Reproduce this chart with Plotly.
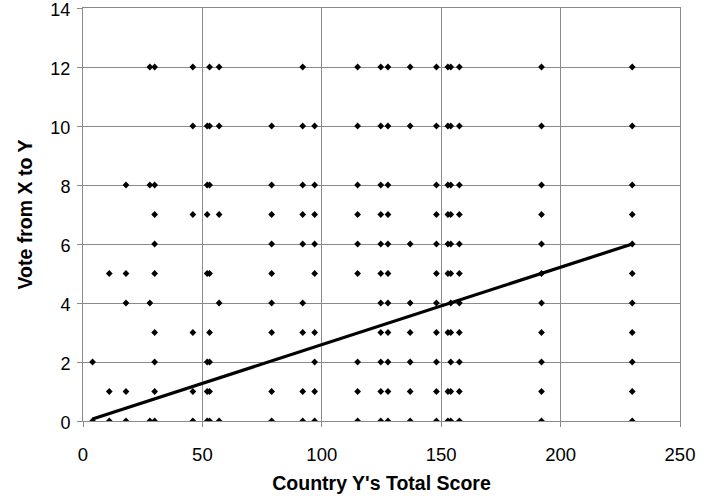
import plotly.graph_objects as go

# Each receiving country: its total score (x) and the votes it got (y values)
total_scores = [4, 11, 18, 28, 30, 46, 52, 53, 57, 79, 92, 97, 115, 124.7, 127.7,
                137, 148, 152.8, 154, 157.6, 192, 230]
FULL = [12, 10, 8, 7, 6, 5, 4, 3, 2, 1, 0]
votes_received = [
    [2, 0],
    [5, 1, 0],
    [8, 5, 4, 1, 0],
    [12, 8, 4, 0],
    [12, 8, 7, 6, 5, 3, 2, 1, 0],
    [12, 10, 7, 3, 1, 0],
    [10, 8, 7, 5, 2, 1, 0],
    [12, 10, 8, 5, 3, 2, 1, 0],
    [12, 10, 7, 4, 0],
    [10, 8, 7, 6, 5, 4, 3, 1, 0],
    [12, 10, 8, 7, 6, 4, 3, 1, 0],
    [10, 8, 7, 6, 5, 3, 2, 1, 0],
    [12, 10, 8, 7, 6, 5, 2, 1, 0],
    FULL,
    FULL,
    [12, 10, 6, 4, 3, 2, 1, 0],
    FULL,
    [12, 10, 8, 7, 6, 5, 3, 1, 0],
    FULL,
    FULL,
    FULL,
    FULL,
]

# Linear trend line endpoints
trend_x = [4, 230]
trend_y = [0.07, 6.0]

xs, ys = [], []
for s, vs in zip(total_scores, votes_received):
    for v in vs:
        xs.append(s)
        ys.append(v)

grid = "#8a8a8a"
fig = go.Figure()
fig.add_trace(go.Scatter(x=xs, y=ys, mode="markers",
                         marker=dict(symbol="diamond", size=5.2, color="black",
                                     line=dict(width=0)),
                         showlegend=False, hoverinfo="x+y"))
fig.add_trace(go.Scatter(x=trend_x, y=trend_y, mode="lines",
                         line=dict(color="black", width=3.2),
                         showlegend=False, hoverinfo="skip"))

font_family = "Liberation Sans, Arial, sans-serif"
axis_common = dict(showgrid=True, gridcolor=grid, gridwidth=1,
                   showline=True, linecolor=grid, linewidth=1, mirror=True,
                   ticks="outside", ticklen=5, tickcolor=grid, zeroline=False,
                   automargin=False, ticklabeloverflow="allow")

fig.update_layout(
    width=711, height=499,
    margin=dict(l=83, r=31, t=8, b=78),
    paper_bgcolor="white", plot_bgcolor="white",
    xaxis=dict(range=[0, 250], dtick=50, tick0=0, ticklabelstandoff=12,
               tickfont=dict(family=font_family, size=18.5, color="black"),
               title=dict(text="<b>Country Y's Total Score</b>",
                          font=dict(family=font_family, size=19.5, color="black"),
                          standoff=12),
               **axis_common),
    yaxis=dict(range=[0, 14], dtick=2, tick0=0, ticklabelstandoff=3,
               ticklabelshift=2,
               tickfont=dict(family=font_family, size=18, color="black"),
               title=dict(text="<b>Vote from X to Y</b>",
                          font=dict(family=font_family, size=19.5, color="black"),
                          standoff=12),
               **axis_common),
)

fig.write_html("out.html",
               config={"displayModeBar": False},
               post_script="document.body.style.margin='0';document.body.style.overflow='hidden';")
